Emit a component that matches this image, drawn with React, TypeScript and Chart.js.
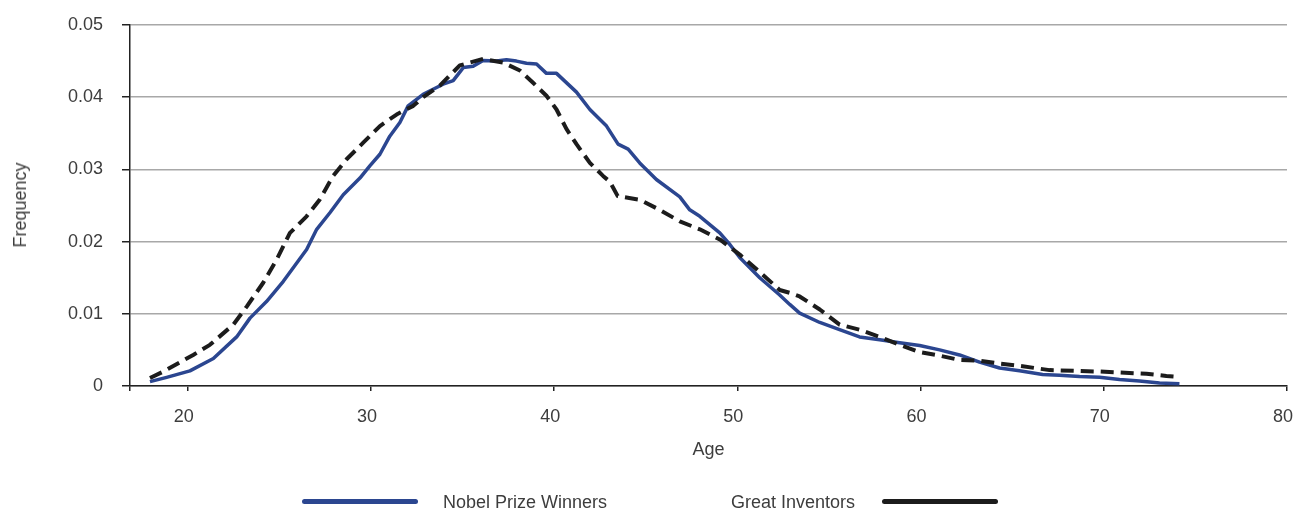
import React, { useEffect, useRef } from "react";
import { Chart, registerables } from "chart.js";

Chart.register(...registerables);

// Nobel Prize winners: age vs. frequency
const nobelAges = [
  17.94, 18.85, 20.12, 21.4, 22.67, 23.4, 24.3, 25.22, 25.94, 26.49, 27.04, 27.76, 28.49, 29.4, 29.94,
  30.49, 31.03, 31.58, 32.03, 32.85, 33.94, 34.49, 35.04, 35.58, 36.12, 36.85, 37.4, 37.94, 38.49,
  39.04, 39.58, 40.13, 41.22, 41.95, 42.86, 43.49, 44.04, 44.67, 45.58, 46.86, 47.4, 47.95, 49.04,
  49.59, 50.13, 51.22, 52.31, 52.86, 53.4, 54.5, 55.58, 56.67, 57.77, 58.86, 59.95, 61.04, 62.13,
  63.22, 64.31, 65.4, 66.66, 67.58, 68.68, 69.77, 70.86, 71.95, 73.04, 74.13,
];
const nobelFreq = [
  0.0006, 0.0012, 0.0021, 0.0038, 0.0068, 0.0094, 0.0117, 0.0145, 0.017, 0.0189, 0.0217, 0.024, 0.0265,
  0.0288, 0.0305, 0.0321, 0.0346, 0.0365, 0.0388, 0.0404, 0.0418, 0.0423, 0.0441, 0.0443, 0.0451, 0.045,
  0.0452, 0.045, 0.0447, 0.0446, 0.0433, 0.0433, 0.0407, 0.0383, 0.036, 0.0335, 0.0328, 0.0309, 0.0286,
  0.0262, 0.0244, 0.0235, 0.0212, 0.0196, 0.0178, 0.015, 0.0126, 0.0113, 0.0101, 0.0088, 0.0078, 0.0068,
  0.0064, 0.006, 0.0056, 0.005, 0.0043, 0.0033, 0.0025, 0.0021, 0.0016, 0.0015, 0.0013, 0.0012, 0.0009,
  0.0007, 0.0004, 0.0003,
];

// Great inventors: age vs. frequency
const inventorAges = [
  17.94, 18.67, 20.3, 21.21, 22.49, 23.22, 24.12, 24.85, 25.58, 26.49, 27.2, 27.94, 28.67, 29.58, 30.49,
  31.4, 32.31, 32.85, 33.76, 34.85, 36.12, 37.22, 38.13, 38.85, 39.58, 40.13, 40.67, 41.22, 41.95, 42.67,
  43.04, 43.47, 44.67, 45.76, 46.86, 47.95, 49.04, 50.13, 51.22, 52.31, 52.86, 53.4, 54.5, 55.58, 56.67,
  57.77, 58.86, 59.95, 61.04, 62.13, 63.22, 64.31, 65.4, 67.04, 69.77, 72.33, 73.42, 73.97,
];
const inventorFreq = [
  0.0011, 0.002, 0.0043, 0.0057, 0.0085, 0.011, 0.0143, 0.0175, 0.0212, 0.0235, 0.0258, 0.0291, 0.0314,
  0.0337, 0.036, 0.0376, 0.0388, 0.04, 0.0416, 0.0444, 0.0453, 0.0448, 0.0437, 0.042, 0.0402, 0.0383,
  0.0356, 0.0335, 0.0309, 0.0291, 0.0283, 0.0263, 0.0258, 0.0244, 0.0228, 0.0217, 0.0203, 0.0182, 0.0158,
  0.0133, 0.0129, 0.0124, 0.0106, 0.0085, 0.0078, 0.0068, 0.0057, 0.0047, 0.0042, 0.0036, 0.0035, 0.0031,
  0.0028, 0.0022, 0.002, 0.0017, 0.0014, 0.0013,
];

const xTickValues = [20, 30, 40, 50, 60, 70, 80];
const yTickValues = [0, 0.01, 0.02, 0.03, 0.04, 0.05];
const seriesLabels = ["Nobel Prize Winners", "Great Inventors"];
const xTitle = "Age";
const yTitle = "Frequency";

const X_MIN = 16.85;
const X_MAX = 80;
const FONT = '"Liberation Sans", Arial, Helvetica, sans-serif';
const TEXT = "#3d3d3d";
const BLUE = "#2b4690";
const BLACK = "#1c1c1c";
const AXIS = "#222222";
const GRID = "#a8a8a8";

export default function App() {
  const ref = useRef<HTMLCanvasElement>(null);

  useEffect(() => {
    document.body.style.margin = "0";
    const canvas = ref.current;
    if (!canvas) return;
    const chart = new Chart(canvas, {
      type: "line",
      data: {
        datasets: [
          {
            label: seriesLabels[0],
            data: nobelAges.map((a, i) => ({ x: a, y: nobelFreq[i] })),
            borderColor: BLUE,
            borderWidth: 3.5,
            pointRadius: 0,
            tension: 0,
            fill: false,
            borderJoinStyle: "round",
            order: 1,
          },
          {
            label: seriesLabels[1],
            data: inventorAges.map((a, i) => ({ x: a, y: inventorFreq[i] })),
            borderColor: BLACK,
            borderWidth: 4,
            borderDash: [13, 7],
            pointRadius: 0,
            tension: 0,
            fill: false,
            borderJoinStyle: "round",
            order: 0,
          },
        ],
      },
      options: {
        animation: false,
        responsive: false,
        maintainAspectRatio: false,
        layout: { padding: { top: 25, right: 10, bottom: 0, left: 0 } },
        plugins: { legend: { display: false }, tooltip: { enabled: false } },
        scales: {
          x: {
            type: "linear",
            min: X_MIN,
            max: X_MAX,
            afterBuildTicks: (s: any) => {
              s.ticks = [X_MIN, ...xTickValues].map((v) => ({ value: v }));
            },
            afterFit: (s: any) => {
              s.height = 123;
              s.paddingLeft = 0;
              s.paddingRight = 0;
            },
            grid: {
              drawOnChartArea: false,
              drawTicks: true,
              tickLength: 5,
              color: AXIS,
              lineWidth: 1.5,
            },
            border: { color: AXIS, width: 1.5 },
            ticks: {
              autoSkip: false,
              maxRotation: 0,
              padding: 15,
              labelOffset: -4,
              color: TEXT,
              font: { family: FONT, size: 18 },
              callback: (v: any) => (Number(v) < 17 ? "" : String(v)),
            },
          },
          y: {
            min: 0,
            max: 0.05,
            afterBuildTicks: (s: any) => {
              s.ticks = yTickValues.map((v) => ({ value: v }));
            },
            afterFit: (s: any) => {
              s.width = 130;
              s.paddingTop = 0;
              s.paddingBottom = 0;
            },
            grid: {
              color: GRID,
              lineWidth: 1.5,
              tickColor: AXIS,
              tickWidth: 1.5,
              tickLength: 8,
            },
            border: { color: AXIS, width: 1.5 },
            ticks: {
              padding: 19,
              color: TEXT,
              font: { family: FONT, size: 18 },
              callback: (v: any) => (Number(v) === 0 ? "0" : Number(v).toFixed(2)),
            },
          },
        },
      },
    });
    return () => chart.destroy();
  }, []);

  const textStyle: React.CSSProperties = {
    position: "absolute",
    fontFamily: FONT,
    fontSize: 18,
    lineHeight: "20px",
    color: TEXT,
    whiteSpace: "nowrap",
  };

  return (
    <div style={{ position: "relative", width: 1297, height: 509, background: "#fff", overflow: "hidden" }}>
      <canvas ref={ref} width={1297} height={509} style={{ position: "absolute", left: 0, top: 0, display: "block" }} />
      <div style={{ ...textStyle, left: 19.7, top: 205, transform: "translate(-50%, -50%) rotate(-90deg)" }}>{yTitle}</div>
      <div style={{ ...textStyle, left: 708.5, top: 439, transform: "translateX(-50%)" }}>{xTitle}</div>
      <div style={{ position: "absolute", left: 302, top: 498.5, width: 116, height: 5, borderRadius: 2.5, background: BLUE }} />
      <div style={{ ...textStyle, left: 443, top: 492 }}>{seriesLabels[0]}</div>
      <div style={{ ...textStyle, left: 731, top: 492 }}>{seriesLabels[1]}</div>
      <div style={{ position: "absolute", left: 882, top: 498.5, width: 116, height: 5, borderRadius: 2.5, background: BLACK }} />
    </div>
  );
}
